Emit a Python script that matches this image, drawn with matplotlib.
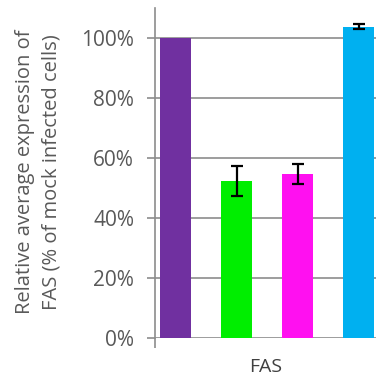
import numpy as np
import matplotlib
matplotlib.use('Agg')
import matplotlib.pyplot as plt
import matplotlib.ticker as mticker

# 数据
groups = ['mock', 'g2', 'g3', 'g4']
values = [100.0, 52.4, 54.7, 103.8]
errors = [0.0, 5.0, 3.3, 0.8]
colors = ['#7030A0', '#00EE00', '#FF10F0', '#00B0F0']
yticks = [0, 20, 40, 60, 80, 100]

plt.rcParams['font.family'] = ['Open Sans', 'DejaVu Sans']

fig = plt.figure(figsize=(3.76, 3.82), dpi=100)
ax = fig.add_axes([155 / 376, 44 / 382, 1 - 155 / 376, 330 / 382])

x = np.arange(len(groups))
ax.bar(x, values, width=0.51, color=colors, zorder=3)
# 误差线（第一组没有）
for i in range(1, len(groups)):
    ax.errorbar(x[i], values[i], yerr=errors[i], fmt='none', ecolor='black',
                elinewidth=1.6, capsize=4, capthick=1.6, zorder=4)

ax.set_ylim(0, 110)
ax.set_xlim(-0.336, 3.28)
ax.set_yticks(yticks)
ax.yaxis.set_major_formatter(mticker.FormatStrFormatter('%d%%'))
ax.grid(True, axis='y', color='#8c8c8c', linewidth=1.2, zorder=0)
for s in ['top', 'right', 'bottom']:
    ax.spines[s].set_visible(False)
ax.spines['left'].set_color('#8c8c8c')
ax.spines['left'].set_linewidth(1.2)
ax.tick_params(axis='y', length=6, width=1.2, color='#8c8c8c',
               labelsize=15, labelcolor='#595959', pad=9)
# 横轴只留左侧的小刻度
ax.set_xticks([-0.336])
ax.set_xticklabels([''])
ax.tick_params(axis='x', length=7, width=1.2, color='#8c8c8c')

fig.text((155 + 376) / 2 / 376, 1 - 367 / 382, 'FAS', ha='center', va='center',
         fontsize=14, color='#404040')
fig.text(38 / 376, 1 - 172 / 382,
         'Relative average expression of\nFAS (% of mock infected cells)',
         rotation=90, ha='center', va='center', fontsize=14.5,
         color='#595959', linespacing=1.45, multialignment='center')

fig.savefig('out.png', dpi=100)
